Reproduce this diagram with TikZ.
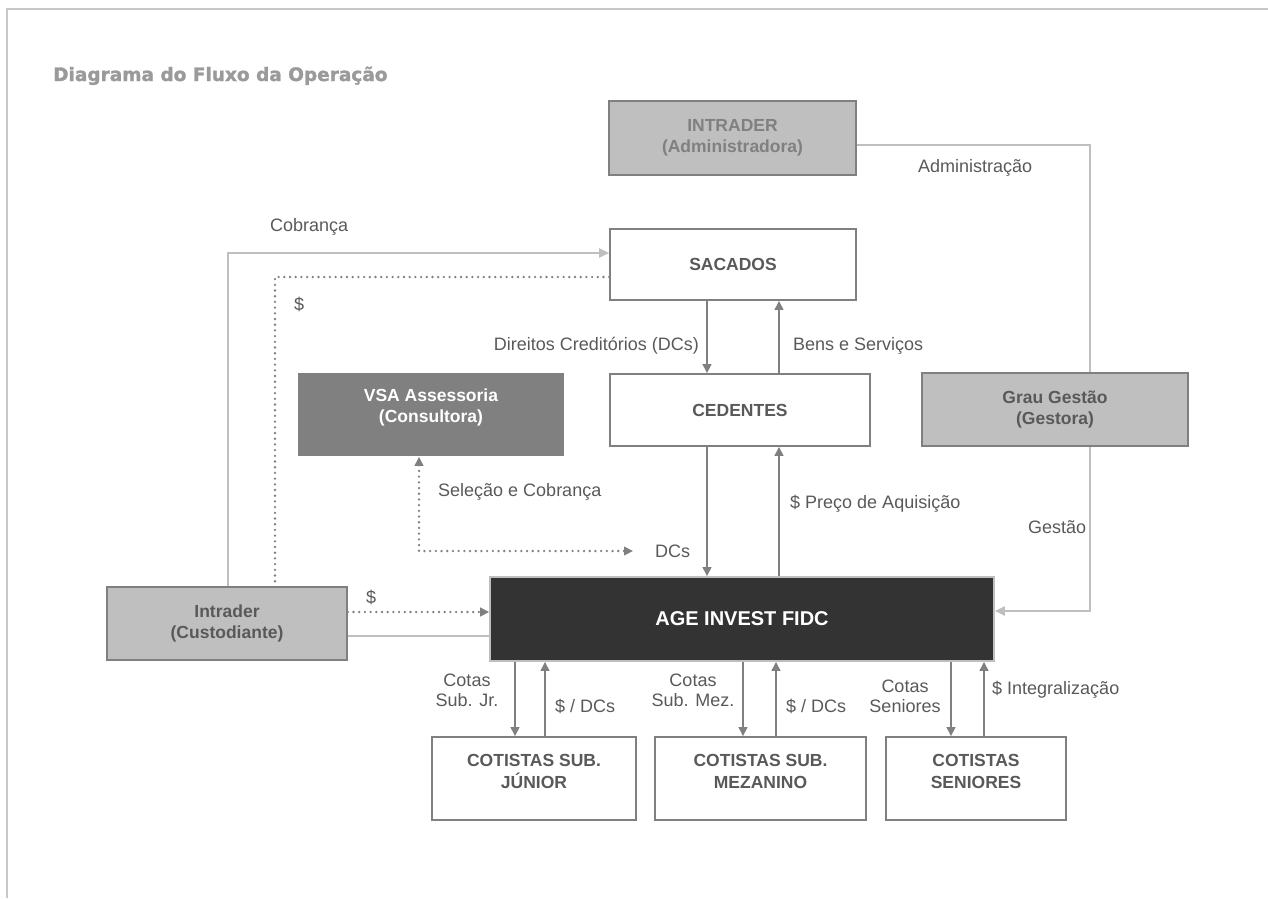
\documentclass[tikz,border=0pt]{standalone}
\usepackage{fontspec}
\setmainfont{Liberation Sans}
\newfontfamily\titlefont[BoldFeatures={FakeBold=1.6}]{DejaVu Sans}
\usetikzlibrary{arrows.meta,calc}
\definecolor{lgray}{HTML}{BFBFBF}
\definecolor{mgray}{HTML}{808080}
\definecolor{dgray}{HTML}{595959}
\definecolor{agefill}{HTML}{333333}
\definecolor{titlegray}{HTML}{9A9A9A}
\definecolor{framegray}{HTML}{C8C8C8}
\begin{document}
\begin{tikzpicture}[x=1pt,y=-1pt,
  basebox/.style={line width=1.6pt, align=center, inner sep=0pt,
    font=\bfseries\fontsize{17.5}{21.5}\selectfont},
  whitebox/.style={basebox, draw=mgray, fill=white, text=dgray},
  graybox/.style={basebox, draw=mgray, fill=lgray, text=dgray},
  admbox/.style={basebox, draw=mgray, fill=lgray, text=mgray},
  darkbox/.style={basebox, draw=none, fill=mgray, text=white},
  agebox/.style={basebox, draw=lgray, fill=agefill, text=white,
    font=\bfseries\fontsize{20}{24}\selectfont},
  lbl/.style={text=dgray, inner sep=0pt, font=\fontsize{18}{20}\selectfont, align=center},
  boxtext/.style={text=dgray, inner sep=0pt, align=center,
    font=\bfseries\fontsize{17.5}{21.5}\selectfont},
  darrow/.style={draw=mgray, line width=2.6pt, -{Triangle[length=9pt,width=8.5pt]}},
  lline/.style={draw=lgray, line width=2pt},
  larrow/.style={lline, -{Triangle[length=10pt,width=9pt]}},
  dotline/.style={draw=mgray, line width=2.6pt, line cap=round, dash pattern=on 0pt off 5.7pt},
  frameline/.style={draw=framegray, line width=2pt}
]
\useasboundingbox (0,0) rectangle (1268,898);
% frame
\draw[frameline] (7,898) -- (7,9) -- (1268,9);
% title
\node[anchor=base west, inner sep=0pt, text=titlegray,
  font=\titlefont\bfseries\fontsize{18.5}{22}\selectfont] (title) at (53,81)
  {Diagrama do Fluxo da Operação};

% boxes
\node[admbox, minimum width=247pt, minimum height=74pt] (adm) at (732.5,138) {INTRADER\\(Administradora)};
\node[whitebox, minimum width=246pt, minimum height=71pt] (sac) at (733,264.5) {SACADOS};
\node[whitebox, minimum width=260pt, minimum height=72pt] (ced) at (740,410) {CEDENTES};
\node[darkbox, minimum width=266pt, minimum height=83pt,
  label={[boxtext, text=white, yshift=7pt]center:{VSA Assessoria\\(Consultora)}}] (vsa) at (431,414.5) {};
\node[graybox, minimum width=266pt, minimum height=73pt] (grau) at (1055,409.5) {Grau Gestão\\(Gestora)};
\node[graybox, minimum width=240pt, minimum height=73pt] (cust) at (227,623.5) {Intrader\\(Custodiante)};
\node[agebox, minimum width=504pt, minimum height=84pt] (age) at (742,619) {AGE INVEST FIDC};
\node[whitebox, minimum width=204pt, minimum height=83pt,
  label={[boxtext, yshift=7pt]center:{COTISTAS SUB.\\JÚNIOR}}] (cj) at (534,778.5) {};
\node[whitebox, minimum width=211pt, minimum height=83pt,
  label={[boxtext, yshift=7pt]center:{COTISTAS SUB.\\MEZANINO}}] (cm) at (760.5,778.5) {};
\node[whitebox, minimum width=180pt, minimum height=83pt,
  label={[boxtext, yshift=7pt]center:{COTISTAS\\SENIORES}}] (cs) at (976,778.5) {};

% administration / gestao line
\draw[lline] ([yshift=-7pt]adm.east) -| ([xshift=35pt]grau.north);
\draw[larrow] ([xshift=35pt]grau.south) |- ([yshift=8pt]age.east);

% cobranca
\draw[larrow] ([xshift=1pt]cust.north) |- ([yshift=11.5pt]sac.west);
\draw[dotline] ([yshift=-12.5pt]sac.west) -| ([xshift=48pt]cust.north);

% custodiante to AGE
\draw[dotline, -{Triangle[length=9pt,width=8.5pt]}] ([yshift=11.5pt]cust.east) -- ([yshift=11.5pt]cust.east -| age.west);
\draw[lline] ([yshift=-12.5pt]cust.east) -- ([yshift=-12.5pt]cust.east -| age.west);

% VSA dotted
\coordinate (dcsend) at (633,551);
\draw[dotline, {Triangle[length=9pt,width=8.5pt]}-{Triangle[length=9pt,width=8.5pt]}] ([xshift=-12pt]vsa.south) |- (dcsend);

% sacados <-> cedentes
\draw[darrow] (sac.south -| 707,0) -- (ced.north -| 707,0);
\draw[darrow] (ced.north -| 779,0) -- (sac.south -| 779,0);
% cedentes <-> age
\draw[darrow] (ced.south -| 707,0) -- (age.north -| 707,0);
\draw[darrow] (age.north -| 779,0) -- (ced.south -| 779,0);
% age <-> cotistas
\draw[darrow] (age.south -| 515,0) -- (cj.north -| 515,0);
\draw[darrow] (cj.north -| 545,0) -- (age.south -| 545,0);
\draw[darrow] (age.south -| 743,0) -- (cm.north -| 743,0);
\draw[darrow] (cm.north -| 776,0) -- (age.south -| 776,0);
\draw[darrow] (age.south -| 951,0) -- (cs.north -| 951,0);
\draw[darrow] (cs.north -| 984,0) -- (age.south -| 984,0);

% labels
\node[lbl, anchor=west] (l1) at (918,168) {Administração};
\node[lbl, anchor=west] (l2) at (270,227) {Cobrança};
\node[lbl, anchor=west] (l3) at (294,304) {\$};
\node[lbl, anchor=east] (l4) at (699,346) {Direitos Creditórios (DCs)};
\node[lbl, anchor=west] (l5) at (793,346) {Bens e Serviços};
\node[lbl, anchor=west] (l6) at (438,492) {Seleção e Cobrança};
\node[lbl, anchor=west] (l7) at (790,504) {\$ Preço de Aquisição};
\node[lbl, anchor=west] (l8) at (1028,527) {Gestão};
\node[lbl, anchor=west] (l9) at (655,551) {DCs};
\node[lbl, anchor=west] (l10) at (366,597) {\$};
\node[lbl] (l11) at (467,690) {Cotas\\Sub. Jr.};
\node[lbl, anchor=west] (l12) at (555,706) {\$ / DCs};
\node[lbl] (l13) at (693,690) {Cotas\\Sub. Mez.};
\node[lbl, anchor=west] (l14) at (786,706) {\$ / DCs};
\node[lbl] (l15) at (905,696) {Cotas\\Seniores};
\node[lbl, anchor=west] (l16) at (992,690) {\$ Integralização};
\end{tikzpicture}
\end{document}
